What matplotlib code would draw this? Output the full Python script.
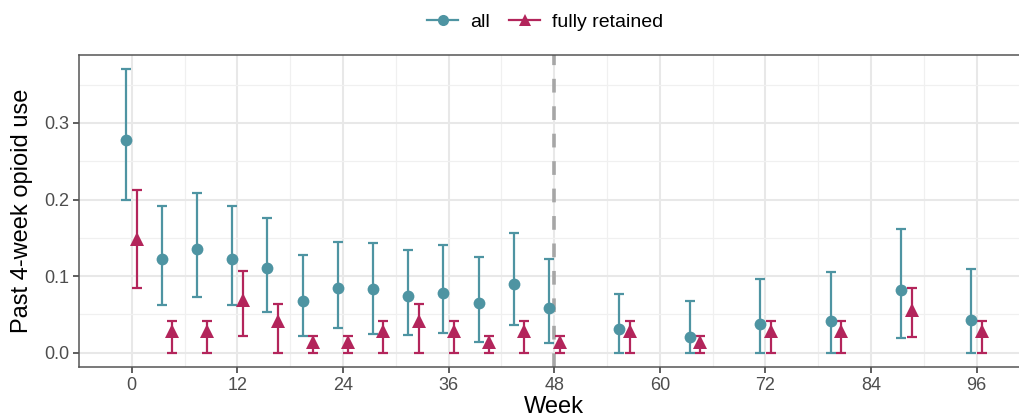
import matplotlib
matplotlib.use("Agg")
import matplotlib.pyplot as plt
from matplotlib.lines import Line2D
import numpy as np

plt.rcParams["font.family"] = ["Liberation Sans", "DejaVu Sans"]

# ---- data ----
weeks = [0, 4, 8, 12, 16, 20, 24, 28, 32, 36, 40, 44, 48, 56, 64, 72, 80, 88, 96]

all_est = [0.277, 0.123, 0.136, 0.122, 0.110, 0.067, 0.084, 0.083, 0.074, 0.078,
           0.065, 0.090, 0.058, 0.031, 0.020, 0.038, 0.041, 0.082, 0.043]
all_lo = [0.200, 0.062, 0.073, 0.063, 0.053, 0.022, 0.033, 0.025, 0.023, 0.026,
          0.014, 0.036, 0.013, 0.0, 0.0, 0.0, 0.0, 0.019, 0.0]
all_hi = [0.370, 0.192, 0.208, 0.192, 0.176, 0.128, 0.145, 0.143, 0.134, 0.141,
          0.125, 0.156, 0.123, 0.077, 0.067, 0.096, 0.106, 0.161, 0.109]

ret_est = [0.148, 0.028, 0.028, 0.069, 0.041, 0.014, 0.014, 0.028, 0.042, 0.028,
           0.014, 0.028, 0.014, 0.028, 0.014, 0.028, 0.028, 0.056, 0.028]
ret_lo = [0.085, 0.0, 0.0, 0.022, 0.0, 0.0, 0.0, 0.0, 0.0, 0.0,
          0.0, 0.0, 0.0, 0.0, 0.0, 0.0, 0.0, 0.021, 0.0]
ret_hi = [0.212, 0.042, 0.042, 0.107, 0.064, 0.022, 0.022, 0.042, 0.064, 0.042,
          0.022, 0.042, 0.022, 0.042, 0.022, 0.042, 0.042, 0.085, 0.042]

x_ticks = [0, 12, 24, 36, 48, 60, 72, 84, 96]
y_ticks = [0.0, 0.1, 0.2, 0.3]

TEAL = "#4E94A2"
CRIMSON = "#B3255B"
DODGE = 0.6


def draw_series(ax, est, lo, hi, shift, color, marker, ms):
    x = np.array(weeks) + shift
    est = np.array(est)
    yerr = [est - np.array(lo), np.array(hi) - est]
    ax.errorbar(x, est, yerr=yerr, fmt="none", ecolor=color, elinewidth=1.6,
                capsize=3.9, capthick=1.6, zorder=3)
    ax.plot(x, est, linestyle="none", marker=marker, color=color,
            markersize=ms, markeredgewidth=0, zorder=4)


fig = plt.figure(figsize=(10.19, 4.2), dpi=100)
ax = fig.add_axes([0.0775, 0.1262, 1.0103 - 0.0775, 0.869 - 0.1262])

# end of the treatment phase
ax.axvline(48, color="#A6A6A6", lw=2.6, dashes=(3.8, 3.8), zorder=2)

draw_series(ax, all_est, all_lo, all_hi, -DODGE, TEAL, "o", 8.5)
draw_series(ax, ret_est, ret_lo, ret_hi, DODGE, CRIMSON, "^", 9.5)

ax.set_xlim(-6, 102)
ax.set_ylim(-0.0185, 0.3885)
ax.set_xticks(x_ticks)
ax.set_xticks([6, 18, 30, 42, 54, 66, 78, 90], minor=True)
ax.set_yticks(y_ticks)
ax.set_yticks([0.05, 0.15, 0.25, 0.35], minor=True)
ax.set_yticklabels([f"{v:.1f}" for v in y_ticks])

ax.grid(True, which="major", color="#E8E8E8", lw=1.5, zorder=0)
ax.grid(True, which="minor", color="#F0F0F0", lw=0.9, zorder=0)
ax.set_axisbelow(True)

for s in ax.spines.values():
    s.set_color("#555555")
    s.set_linewidth(1.1)

ax.tick_params(which="major", length=4, width=1.1, color="#333333",
               labelsize=13, labelcolor="#4D4D4D", pad=3)
ax.tick_params(which="minor", length=0)

ax.set_xlabel("Week", fontsize=17, labelpad=2)
ax.set_ylabel("Past 4-week opioid use", fontsize=17, labelpad=8)

handles = [
    Line2D([], [], color=TEAL, marker="o", markersize=8, lw=1.6, markeredgewidth=0),
    Line2D([], [], color=CRIMSON, marker="^", markersize=9, lw=1.6, markeredgewidth=0),
]
fig.legend(handles, ["all", "fully retained"], loc="center", ncol=2,
           bbox_to_anchor=(0.535, 0.947), frameon=False, fontsize=14,
           handlelength=1.6, columnspacing=1.0, handletextpad=0.6)

fig.savefig("out.png", dpi=100)
